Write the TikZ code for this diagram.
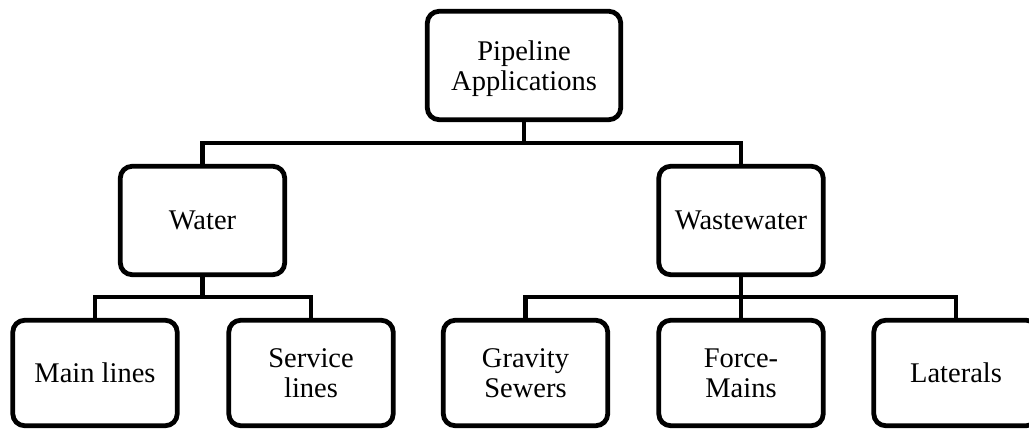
\documentclass[tikz,border=0pt]{standalone}
\usepackage{fontspec}
\setmainfont{Liberation Serif}
\begin{document}
\begin{tikzpicture}[x=1pt,y=-1pt,
  box/.style={draw=black, line width=4.8pt, rounded corners=12pt, align=center,
    inner sep=0pt, text depth=0pt, font=\fontsize{28.5}{30}\selectfont, text=black},
  topbox/.style={box, minimum width=193.5pt, minimum height=108.5pt},
  midbox/.style={box, minimum width=164.5pt, minimum height=108.5pt},
  leafbox/.style={box, minimum width=164.5pt, minimum height=105.5pt},
  link/.style={draw=black, line width=4.8pt}]
  \useasboundingbox (0,0) rectangle (1029,430);
  \fill[white] (0,0) rectangle (1029,430);

  % tree levels
  \node[topbox] (root) at (524,65.5) {Pipeline\\Applications};
  \node[midbox] (water) at (202.5,220.5) {Water};
  \node[midbox] (waste) at (741,220.5) {Wastewater};
  \node[leafbox] (main) at (95,373) {Main lines};
  \node[leafbox] (service) at (311,373) {Service\\lines};
  \node[leafbox] (gravity) at (525.5,373) {Gravity\\Sewers};
  \node[leafbox] (force) at (741,373) {Force-\\Mains};
  \node[leafbox] (lateral) at (956,373) {Laterals};

  % horizontal buses
  \coordinate (busA) at (0,143);
  \coordinate (busB) at (0,297);

  % root to first level
  \draw[link] (root.south) -- (root.south |- busA);
  \draw[link] (water.north) |- (waste.north |- busA) -- (waste.north);

  % water branch
  \draw[link] (water.south) -- (water.south |- busB);
  \draw[link] (main.north) |- (service.north |- busB) -- (service.north);

  % wastewater branch
  \draw[link] (waste.south) -- (waste.south |- busB);
  \draw[link] (gravity.north) |- (lateral.north |- busB) -- (lateral.north);
  \draw[link] (force.north) -- (force.north |- busB);
\end{tikzpicture}
\end{document}
